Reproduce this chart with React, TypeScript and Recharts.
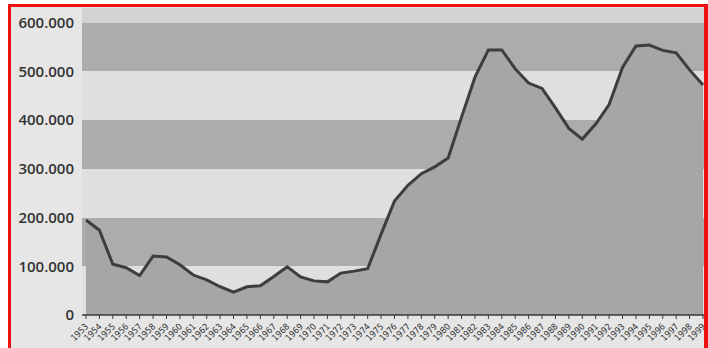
import { AreaChart, Area, XAxis, YAxis, CartesianGrid } from "recharts";

const years = [
  "1953", "1954", "1955", "1956", "1957", "1958", "1959", "1960", "1961", "1962",
  "1963", "1964", "1965", "1966", "1967", "1968", "1969", "1970", "1971", "1972",
  "1973", "1974", "1975", "1976", "1977", "1978", "1979", "1980", "1981", "1982",
  "1983", "1984", "1985", "1986", "1987", "1988", "1989", "1990", "1991", "1992",
  "1993", "1994", "1995", "1996", "1997", "1998", "1999",
];

const values = [
  195000, 174000, 104000, 97000, 81000, 121000, 119000, 103000, 82000, 72000,
  58000, 47000, 58000, 60000, 79000, 99000, 78000, 70000, 68000, 86000,
  90000, 95000, 166000, 234000, 266000, 290000, 304000, 322000, 406000, 488000,
  544000, 544000, 505000, 476000, 465000, 425000, 383000, 361000, 392000, 432000,
  508000, 552000, 554000, 543000, 538000, 503000, 472000,
];

const yTicks = [0, 100000, 200000, 300000, 400000, 500000, 600000];

// top strip, then 600k-500k down to 100k-0
const bandFills = ["#d2d2d2", "#acacac", "#dfdfdf", "#acacac", "#dfdfdf", "#acacac", "#dfdfdf"];

const data = years.map((year, i) => ({ year, value: values[i] }));

const formatY = (v: number) => (v === 0 ? "0" : `${v / 1000}.000`);

function YearTick({ x, y, payload }: any) {
  return (
    <g transform={`translate(${x + 3},${y + 6})`}>
      <text
        x={0}
        y={0}
        textAnchor="end"
        transform="rotate(-45)"
        fontSize={9}
        fill="#333"
        fontFamily="DejaVu Sans Condensed"
      >
        {payload.value}
      </text>
    </g>
  );
}

export default function App() {
  return (
    <div style={{ position: "absolute", left: 0, top: 0, width: 708, height: 348, background: "#fff", overflow: "hidden" }}>
      <div style={{ position: "absolute", left: 8, top: 4, width: 700, height: 344, background: "#e6e6e6" }} />
      <div style={{ position: "absolute", left: 0, top: 0 }}>
        <AreaChart
          width={708}
          height={348}
          data={data}
          margin={{ top: 8, right: 3, bottom: 0, left: 0 }}
        >
          <CartesianGrid
            vertical={false}
            stroke="none"
            horizontalFill={bandFills}
            fillOpacity={1}
          />
          <XAxis
            dataKey="year"
            interval={0}
            padding={{ left: 4, right: 2 }}
            axisLine={{ stroke: "#3a3a3a", strokeWidth: 1.5 }}
            tickLine={{ stroke: "#3a3a3a" }}
            tickSize={4}
            tickMargin={2}
            tick={<YearTick />}
            height={33}
          />
          <YAxis
            width={82}
            domain={[0, 630000]}
            ticks={yTicks}
            tickFormatter={formatY}
            axisLine={false}
            tickLine={false}
            tick={{ fill: "#333", fontSize: 15, fontWeight: 600, fontFamily: "Open Sans" }}
          />
          <Area
            type="linear"
            dataKey="value"
            stroke="#3d3d3d"
            strokeWidth={3}
            fill="#a6a6a6"
            fillOpacity={1}
            dot={false}
            activeDot={false}
            isAnimationActive={false}
          />
        </AreaChart>
      </div>
      <div
        style={{
          position: "absolute",
          left: 8,
          top: 4,
          width: 700,
          height: 344,
          boxSizing: "border-box",
          borderLeft: "3px solid #ee1111",
          borderTop: "3px solid #ee1111",
          borderRight: "4px solid #ee1111",
          pointerEvents: "none",
        }}
      />
    </div>
  );
}
